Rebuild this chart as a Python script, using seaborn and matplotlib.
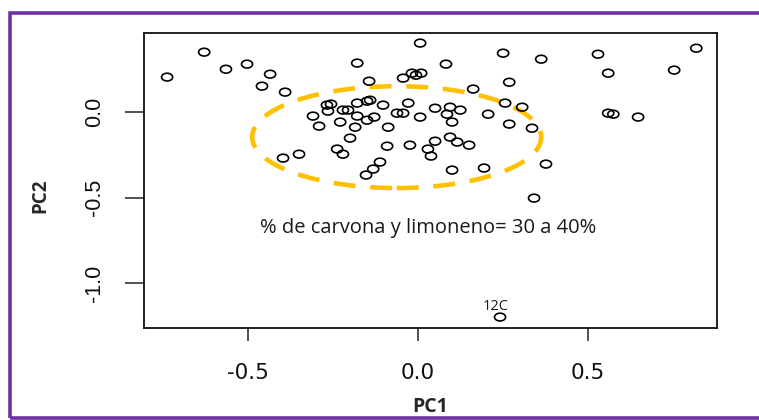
import matplotlib
matplotlib.use("Agg")
import matplotlib.pyplot as plt
from matplotlib.patches import Ellipse, Rectangle
from matplotlib.path import Path
from matplotlib.transforms import Affine2D
import seaborn as sns
import pandas as pd

# PCA scores of the samples (first two principal components)
pc1 = [-0.738, -0.629, -0.565, -0.503, -0.435, -0.459, -0.391, -0.179, -0.144, -0.044,
       -0.268, -0.256, -0.221, -0.206, -0.179, -0.150, -0.141, -0.103, -0.265, -0.309,
       -0.291, -0.229, -0.179, -0.150, -0.129, -0.185, -0.088, -0.200, -0.238, -0.221,
       -0.091, -0.350, -0.397, -0.112, -0.132, -0.153, -0.062,
       0.006, 0.250, 0.362, 0.529, 0.818, 0.082, -0.018, -0.006, 0.009, 0.268,
       0.559, 0.753, 0.162, 0.256, 0.306, -0.029, -0.044, 0.006, 0.050, 0.094,
       0.124, 0.085, 0.100, 0.206, 0.268, 0.335, 0.559, 0.574, 0.647, -0.024,
       0.050, 0.094, 0.115, 0.150, 0.029, 0.038, 0.100, 0.194, 0.376, 0.341,
       0.241]
pc2 = [0.205, 0.351, 0.251, 0.281, 0.222, 0.152, 0.117, 0.287, 0.181, 0.199,
       0.041, 0.047, 0.012, 0.012, 0.053, 0.064, 0.070, 0.041, 0.006, -0.023,
       -0.082, -0.058, -0.023, -0.047, -0.029, -0.088, -0.088, -0.152, -0.216, -0.246,
       -0.199, -0.246, -0.269, -0.292, -0.333, -0.368, -0.006,
       0.404, 0.345, 0.310, 0.339, 0.374, 0.281, 0.228, 0.216, 0.228, 0.175,
       0.228, 0.246, 0.135, 0.053, 0.029, 0.053, -0.006, -0.029, 0.023, 0.029,
       0.012, -0.012, -0.058, -0.012, -0.070, -0.094, -0.006, -0.012, -0.029, -0.193,
       -0.170, -0.146, -0.175, -0.193, -0.216, -0.257, -0.339, -0.327, -0.304, -0.503,
       -1.199]
outlier_label = "12C"

# Group of samples with similar composition, highlighted by an ellipse
group_center = (-0.063, -0.146)
group_width = 0.85
group_height = 0.596
group_note = "% de carvona y limoneno= 30 a 40%"

x_ticks = [-0.5, 0.0, 0.5]
x_tick_labels = ["-0.5", "0.0", "0.5"]
y_ticks = [-1.0, -0.5, 0.0]
y_tick_labels = ["-1.0", "-0.5", "0.0"]

df = pd.DataFrame({"PC1": pc1, "PC2": pc2})

sns.set_style("white")

fig = plt.figure(figsize=(7.59, 4.2), dpi=100)
ax = fig.add_axes([0.1897, 0.219, 0.7550, 0.702])

# slightly flattened open circle, as in R's pch = 1 on a stretched device
ring = Path.unit_circle().transformed(Affine2D().scale(1.0, 0.7))

sns.scatterplot(data=df, x="PC1", y="PC2", ax=ax, marker=ring, s=64,
                facecolor="none", edgecolor="black", linewidth=1.2, zorder=3)

ax.add_patch(Ellipse(group_center, group_width, group_height, fill=False,
                     edgecolor="#FFC000", linewidth=3.3,
                     linestyle=(0, (4.8, 3.2)), zorder=2))

ax.text(0.03, -0.678, group_note, ha="center", va="center",
        fontsize=14.5, family="Open Sans", color="#1a1a1a")

ax.annotate(outlier_label, (pc1[-1], pc2[-1]), xytext=(-3, 5),
            textcoords="offset points", ha="center", va="baseline",
            fontsize=10.5, family="Open Sans", color="#1a1a1a")

ax.set_xlim(-0.806, 0.879)
ax.set_ylim(-1.263, 0.462)

ax.set_xticks(x_ticks)
ax.set_xticklabels(x_tick_labels, family="DejaVu Sans", fontsize=15.5)
ax.set_yticks(y_ticks)
ax.set_yticklabels(y_tick_labels, family="Liberation Sans", fontsize=15.5,
                   rotation=90, va="center")

ax.tick_params(axis="x", bottom=True, length=9.5, width=1.1, pad=16,
               color="#222222", labelcolor="#111111")
ax.tick_params(axis="y", left=True, length=14, width=1.1, pad=14,
               color="#222222", labelcolor="#111111")

for side in ["left", "right", "top", "bottom"]:
    ax.spines[side].set_visible(True)
    ax.spines[side].set_color("#111111")
    ax.spines[side].set_linewidth(1.3)

ax.set_xlabel("PC1", fontsize=14, fontweight="bold", family="Open Sans")
ax.xaxis.set_label_coords(0.5, -0.235)
ax.set_ylabel("PC2", fontsize=13.5, fontweight="bold", family="Open Sans")
ax.yaxis.set_label_coords(-0.164, 0.45)

# purple frame around the panel (right side runs past the image edge)
fig.patches.append(Rectangle((0.0138, 0.0036), 1.5, 0.966,
                             transform=fig.transFigure, fill=False,
                             edgecolor="#7030A0", linewidth=2.6,
                             clip_on=False, zorder=10))

fig.savefig("out.png", dpi=100, facecolor="white")
